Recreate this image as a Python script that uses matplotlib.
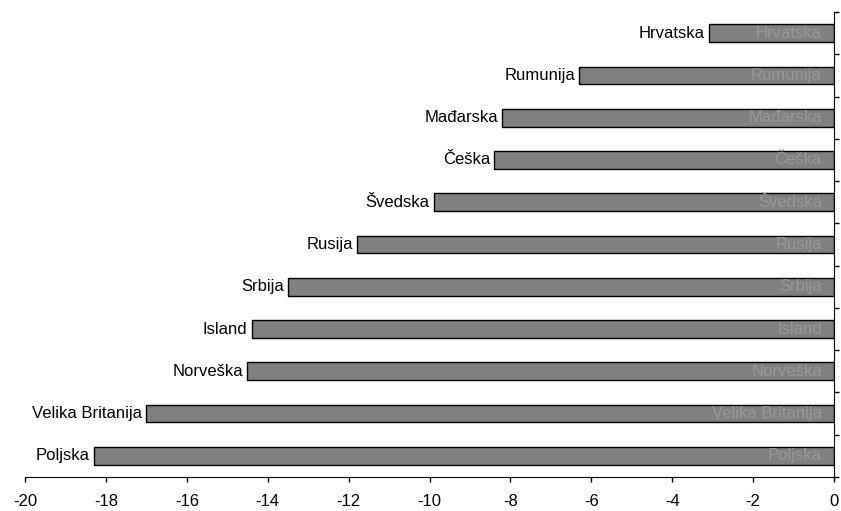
import matplotlib
matplotlib.use("Agg")
import matplotlib.pyplot as plt
import numpy as np

countries = ["Hrvatska", "Rumunija", "Mađarska", "Češka", "Švedska", "Rusija",
             "Srbija", "Island", "Norveška", "Velika Britanija", "Poljska"]
values = [-3.1, -6.3, -8.2, -8.4, -9.9, -11.8, -13.5, -14.4, -14.5, -17.0, -18.3]
xticks = [-20, -18, -16, -14, -12, -10, -8, -6, -4, -2, 0]

plt.rcParams['font.family'] = ['Liberation Sans', 'DejaVu Sans']

fig = plt.figure(figsize=(8.41, 5.11), dpi=100)
ax = fig.add_axes([25/841, 34/511, (834-25)/841, (477-12)/511])

y = np.arange(len(countries))[::-1]
ax.barh(y, values, height=0.42, color="#808080", edgecolor="black", linewidth=1.0)

fs = 12
for yi, v, name in zip(y, values, countries):
    ax.text(v - 0.1, yi, name, ha="right", va="center", fontsize=fs, color="black")
    ax.text(-0.3, yi, name, ha="right", va="center", fontsize=fs, color="#999999")

ax.set_xlim(-20, 0)
ax.set_ylim(-0.5, len(countries) - 0.5)
ax.set_xticks(xticks)
ax.set_xticklabels([str(t) for t in xticks], fontsize=fs)
ax.tick_params(axis="x", direction="out", length=3.6, width=1, pad=8.4)

ax.yaxis.tick_right()
ax.set_yticks(np.arange(-0.5, len(countries), 1.0))
ax.set_yticklabels([])
ax.tick_params(axis="y", direction="out", length=3.6, width=1)

ax.spines["left"].set_visible(False)
ax.spines["top"].set_visible(False)
ax.spines["right"].set_color("black")
ax.spines["bottom"].set_color("black")

fig.savefig("out.png", dpi=100)
